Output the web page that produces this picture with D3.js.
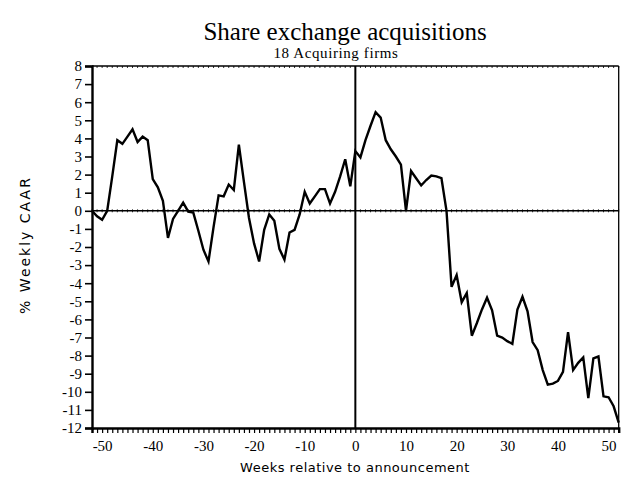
<!DOCTYPE html>
<html>
<head>
<meta charset="utf-8">
<script src="https://cdnjs.cloudflare.com/ajax/libs/d3/7.8.5/d3.min.js"></script>
<style>
  body { margin: 0; background: #fff; }
  svg { display: block; }
</style>
</head>
<body>
<div id="chart"></div>
<script>
// Weeks relative to announcement (x categories)
var weeks = d3.range(-52, 53);

// Weekly CAAR (%), weeks -52 .. 52
var caar = [
  0, -0.3, -0.5, 0, 1.9, 3.9, 3.7, 4.1, 4.5, 3.8,
  4.1, 3.9, 1.75, 1.3, 0.55, -1.5, -0.45, 0, 0.45, -0.05,
  -0.1, -1.1, -2.15, -2.8, -0.9, 0.85, 0.8, 1.45, 1.15, 3.65,
  1.6, -0.4, -1.8, -2.8, -1.05, -0.2, -0.55, -2.1, -2.7, -1.2,
  -1.05, -0.2, 1.05, 0.4, 0.8, 1.2, 1.2, 0.4, 1.05, 1.9,
  2.85, 1.35, 3.3, 2.95, 3.9, 4.7, 5.45, 5.15, 3.9, 3.4,
  3.0, 2.55, 0, 2.2, 1.8, 1.4, 1.7, 1.95, 1.9, 1.8,
  0, -4.2, -3.55, -5.05, -4.55, -6.9, -6.2, -5.45, -4.8, -5.5,
  -6.9, -7.0, -7.2, -7.35, -5.45, -4.75, -5.55, -7.25, -7.7, -8.8,
  -9.6, -9.55, -9.4, -8.9, -6.7, -8.8, -8.4, -8.1, -10.35, -8.15,
  -8.05, -10.25, -10.3, -10.8, -11.7
];

// Axis tick labels
var xTickValues = [-50, -40, -30, -20, -10, 0, 10, 20, 30, 40, 50];
var yTickValues = d3.range(-12, 9);

var title = "Share exchange acquisitions";
var subtitle = "18 Acquiring firms";
var xLabel = "Weeks relative to announcement";
var yLabel = "% Weekly CAAR";

var width = 621, height = 478;
// plot box edges (note: "top" is reserved on window, so use a prefix)
var pLeft = 92, pRight = 618.7, pTop = 66, pBottom = 428;

var svg = d3.select("#chart").append("svg")
    .attr("width", width)
    .attr("height", height);

svg.append("rect").attr("width", width).attr("height", height).attr("fill", "#fff");

var x = d3.scaleLinear().domain([-52, 52]).range([pLeft, pRight]);
var y = d3.scaleLinear().domain([-12, 8]).range([pBottom, pTop]);

var serif = "'Liberation Serif', 'Times New Roman', serif";
var sans = "'DejaVu Sans', 'Liberation Sans', sans-serif";

// Titles
svg.append("text")
    .attr("x", 345).attr("y", 40)
    .attr("text-anchor", "middle")
    .style("font-family", serif).style("font-size", "25px")
    .text(title);
svg.append("text")
    .attr("x", 336).attr("y", 58)
    .attr("text-anchor", "middle")
    .style("font-family", serif).style("font-size", "15px")
    .style("letter-spacing", "0.6px")
    .text(subtitle);

// Frame: top and right edges
svg.append("line")
    .attr("x1", pLeft).attr("x2", pRight).attr("y1", pTop).attr("y2", pTop)
    .attr("stroke", "#000").attr("stroke-width", 1.3);
svg.append("line")
    .attr("x1", pRight).attr("x2", pRight).attr("y1", pTop).attr("y2", pBottom)
    .attr("stroke", "#000").attr("stroke-width", 1.3);

// small weekly ticks on top edge and on the zero line
var minor = svg.append("g").attr("class", "minor");
minor.selectAll("line.t")
    .data(weeks).enter().append("line")
    .attr("class", "t")
    .attr("x1", function(w) { return x(w); })
    .attr("x2", function(w) { return x(w); })
    .attr("y1", pTop).attr("y2", pTop + 2)
    .attr("stroke", "#000").attr("stroke-width", 0.8);
minor.selectAll("line.z")
    .data(weeks).enter().append("line")
    .attr("class", "z")
    .attr("x1", function(w) { return x(w); })
    .attr("x2", function(w) { return x(w); })
    .attr("y1", y(0) - 1.5).attr("y2", y(0) + 1.5)
    .attr("stroke", "#000").attr("stroke-width", 0.8);

// Zero reference lines
svg.append("line")
    .attr("x1", pLeft).attr("x2", pRight).attr("y1", y(0)).attr("y2", y(0))
    .attr("stroke", "#000").attr("stroke-width", 1.6);
svg.append("line")
    .attr("x1", x(0)).attr("x2", x(0)).attr("y1", pTop).attr("y2", pBottom)
    .attr("stroke", "#000").attr("stroke-width", 2);

// Y axis
var yAxis = d3.axisLeft(y)
    .tickValues(yTickValues)
    .tickSize(7)
    .tickPadding(3)
    .tickFormat(function(d) { return String(d); });
var gy = svg.append("g")
    .attr("transform", "translate(" + pLeft + ",0)")
    .call(yAxis);
gy.select(".domain").attr("stroke-width", 2.4);
gy.selectAll(".tick line").attr("stroke-width", 1.6);
gy.selectAll("text")
    .style("font-family", serif).style("font-size", "15px").attr("fill", "#000");

// X axis: weekly ticks, labels every 10 weeks
var xMinor = d3.axisBottom(x)
    .tickValues(weeks)
    .tickSize(5)
    .tickFormat("");
var gxm = svg.append("g")
    .attr("transform", "translate(0," + pBottom + ")")
    .call(xMinor);
gxm.select(".domain").attr("stroke-width", 2.4);
gxm.selectAll(".tick line").attr("stroke-width", 1.2);

var xAxis = d3.axisBottom(x)
    .tickValues(xTickValues)
    .tickSize(0)
    .tickPadding(12)
    .tickFormat(function(d) { return String(d); });
var gx = svg.append("g")
    .attr("transform", "translate(0," + pBottom + ")")
    .call(xAxis);
gx.select(".domain").remove();
gx.selectAll("text")
    .style("font-family", serif).style("font-size", "15px").attr("fill", "#000");

// Axis titles
svg.append("text")
    .attr("x", 355).attr("y", 472)
    .attr("text-anchor", "middle")
    .style("font-family", sans).style("font-size", "13px")
    .style("letter-spacing", "0.5px")
    .text(xLabel);
svg.append("text")
    .attr("transform", "translate(30," + 245 + ") rotate(-90)")
    .attr("text-anchor", "middle")
    .style("font-family", sans).style("font-size", "14px")
    .style("letter-spacing", "2px")
    .text(yLabel);

// The CAAR line
var line = d3.line()
    .x(function(d) { return x(d[0]); })
    .y(function(d) { return y(d[1]); });

svg.append("path")
    .datum(d3.zip(weeks, caar))
    .attr("d", line)
    .attr("fill", "none")
    .attr("stroke", "#000")
    .attr("stroke-width", 2.4)
    .attr("stroke-linejoin", "miter");
</script>
</body>
</html>
